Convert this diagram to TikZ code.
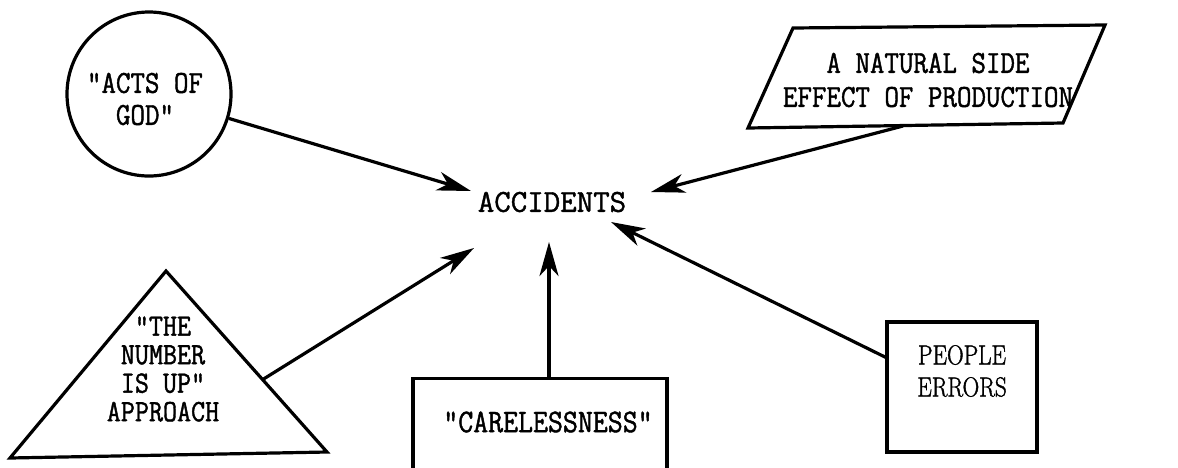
\documentclass[tikz,border=0pt]{standalone}
\usepackage{fontspec}
\newfontfamily\twfont[FakeBold=1.3,FakeStretch=0.88]{Latin Modern Mono}
\newfontfamily\twwide[FakeBold=1.3]{Latin Modern Mono}
\newfontfamily\srfont[FakeBold=1.4,FakeStretch=0.84]{Latin Modern Roman}
\usetikzlibrary{arrows.meta,calc}
\begin{document}
\begin{tikzpicture}[x=1pt,y=-1pt,
  lbl/.style={font=\fontsize{32}{32}\selectfont\twfont, align=center, inner sep=0pt},
  rlbl/.style={font=\fontsize{27.5}{32}\selectfont\srfont, align=center, inner sep=0pt},
  arr/.style={-{Stealth[length=34pt,width=19pt,inset=10pt]}, line width=3.2pt},
  shp/.style={draw, line width=3.2pt}]
\useasboundingbox (0,0) rectangle (1178,467);
\clip (0,0) rectangle (1178,467);
% circle
\node[shp, circle, minimum size=164pt, inner sep=0pt] (god) at (149,94) {};
\node[lbl] (godtxt) at (145,99) {"ACTS OF\\GOD"};
% parallelogram
\draw[shp, line join=miter] (793,28) coordinate (p1) -- (1105,25) coordinate (p2) -- (1063,123) coordinate (p3) -- (748,128) coordinate (p4) -- cycle;
\node[lbl, font=\fontsize{32}{34}\selectfont\twfont] (nat) at (928,80) {A NATURAL SIDE\\EFFECT OF PRODUCTION};
\coordinate (natb) at (903,126);
% center
\node[lbl, font=\fontsize{32}{32}\selectfont\twwide] (acc) at (552,202) {ACCIDENTS};
% triangle
\node[lbl, font=\fontsize{31}{28.5}\selectfont\twfont] (num) at (163,369) {"THE\\NUMBER\\IS UP"\\APPROACH};
\draw[shp, line join=miter] (166,271) coordinate (t1) -- (327,452) coordinate (t2) -- (10,458) coordinate (t3) -- cycle;
\coordinate (tri) at ($(t1)!0.6!(t2)$);
% carelessness
\node[shp, rectangle, minimum width=254pt, minimum height=110pt, anchor=north, inner sep=0pt] (care) at (540,377) {};
\node[lbl, font=\fontsize{33}{32}\selectfont\twfont] (caretxt) at (548,422) {"CARELESSNESS"};
\coordinate (caretop) at (549,377);
% people errors
\node[shp, rectangle, minimum width=150pt, minimum height=130pt, inner sep=0pt] (ppl) at (962,387) {};
\node[rlbl] (ppltxt) at (962,371) {PEOPLE\\ERRORS};
\coordinate (pplw) at (887,358);
% tips
\coordinate (a1) at (471,191);
\coordinate (a2) at (651,192);
\coordinate (a3) at (474,248);
\coordinate (a4) at (549,242);
\coordinate (a5) at (611,222);
% arrows
\draw[arr] (god.-17) -- (a1);
\draw[arr] (natb) -- (a2);
\draw[arr] (tri) -- (a3);
\draw[arr] (caretop) -- (a4);
\draw[arr] (pplw) -- (a5);
\end{tikzpicture}
\end{document}
